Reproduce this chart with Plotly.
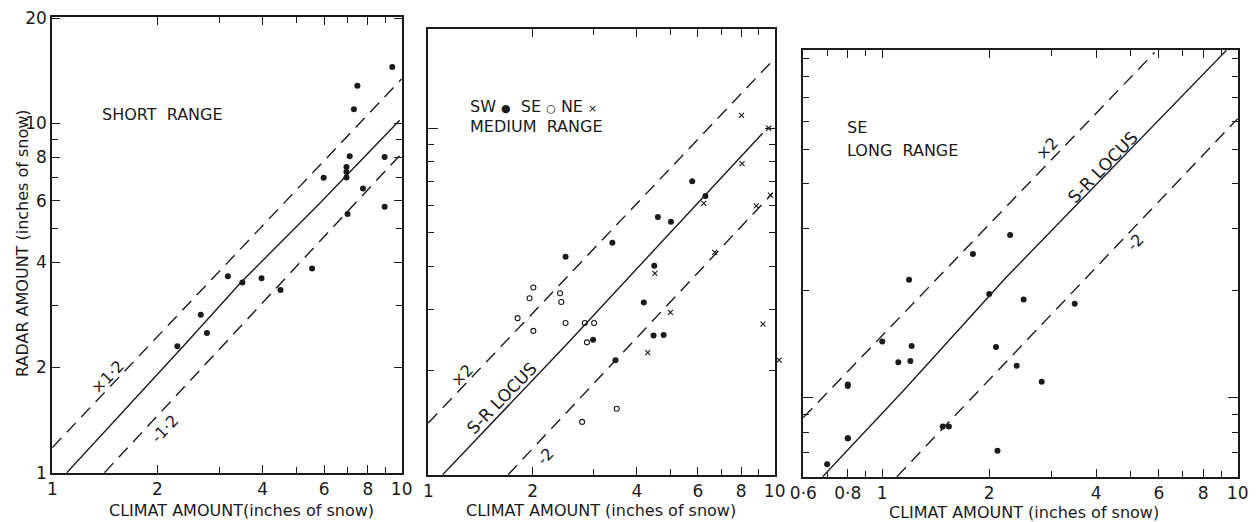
import plotly.graph_objects as go
import math

W, H = 1259, 522
OFF = 8  # page body margin: the figure is drawn 8 px in from the window's corner

# ---------------- data ----------------
# Panel 1: short range
p1_x = [9.4, 7.47, 7.3, 7.1, 6.95, 6.95, 6.95, 5.98, 7.75, 8.94, 8.94, 7.0, 5.54, 4.5, 3.97, 3.5, 3.18, 2.66, 2.77, 2.28]
p1_y = [14.5, 12.8, 10.96, 8.05, 7.5, 7.25, 7.0, 6.98, 6.51, 8.01, 5.77, 5.5, 3.84, 3.33, 3.6, 3.5, 3.65, 2.83, 2.51, 2.3]
p1_locus_x = [1.1, 2.37, 3.48, 5.83, 9.87]
p1_locus_y = [1.0, 2.30, 3.52, 5.9, 10.2]
p1_upper_x = [1.0, 10.0]
p1_upper_y = [1.18, 13.4]
p1_lower_x = [1.41, 10.0]
p1_lower_y = [1.0, 8.2]

# Panel 2: medium range
p2_sw_x = [2.49, 3.40, 4.60, 5.02, 5.78, 6.31, 4.49, 4.19, 4.47, 4.78, 2.99, 3.47]
p2_sw_y = [4.26, 4.67, 5.54, 5.37, 7.03, 6.37, 4.01, 3.14, 2.52, 2.53, 2.45, 2.14]
p2_se_x = [1.81, 1.96, 2.01, 2.01, 2.40, 2.42, 2.49, 2.83, 3.01, 2.87, 3.50, 2.78]
p2_se_y = [2.83, 3.23, 3.47, 2.60, 3.34, 3.15, 2.74, 2.74, 2.74, 2.41, 1.55, 1.42]
p2_ne_x = [8.02, 9.61, 8.05, 9.72, 6.24, 8.85, 6.71, 4.51, 5.0, 9.25, 4.30, 10.3]
p2_ne_y = [10.9, 10.0, 7.91, 6.41, 6.07, 5.97, 4.38, 3.81, 2.94, 2.72, 2.25, 2.14]
p2_locus_x = [1.10, 2.51, 9.23]
p2_locus_y = [1.0, 2.38, 9.68]
p2_upper_x = [1.0, 10.0]
p2_upper_y = [1.41, 15.9]
p2_lower_x = [1.70, 9.87]
p2_lower_y = [1.0, 6.5]

# Panel 3: long range (SE)
p3_x = [2.29, 1.80, 1.19, 2.0, 2.50, 3.48, 1.0, 1.21, 2.09, 1.11, 1.2, 2.39, 2.81, 0.80, 1.48, 1.54, 0.80, 2.11, 0.70, 0.80, 0.80]
p3_y = [2.87, 2.54, 2.15, 1.96, 1.89, 1.84, 1.44, 1.40, 1.39, 1.26, 1.27, 1.23, 1.11, 1.08, 0.83, 0.83, 0.77, 0.71, 0.65, 0.77, 1.09]
p3_locus_x = [0.68, 1.15, 2.24, 9.3]
p3_locus_y = [0.6, 1.05, 2.19, 9.5]
p3_upper_x = [0.6, 5.84]
p3_upper_y = [0.88, 9.37]
p3_lower_x = [1.10, 10.0]
p3_lower_y = [0.6, 6.1]

# tick labels
p1_xticks = [1, 2, 4, 6, 8, 10]
p1_yticks = [1, 2, 4, 6, 8, 10, 20]
p2_xticks = [1, 2, 4, 6, 8, 10]
p3_xticks = [0.6, 0.8, 1, 2, 4, 6, 8, 10]
p3_xtext = ["0·6", "0·8", "1", "2", "4", "6", "8", "10"]

FONT = "DejaVu Sans"
INK = "#1a1a1a"

# pixel boxes of each panel in the window (left, right, top, bottom)
boxes = {
    1: (52, 402, 17, 473),
    2: (428, 775, 29, 475),
    3: (803, 1238, 50, 477),
}
ranges = {
    1: ((1, 10), (1, 20.1)),
    2: ((1, 10), (1, 19.3)),
    3: ((0.6, 10), (0.6, 9.5)),
}

def fx(px):
    return (px - OFF) / W

def fy(py):
    return 1 - (py - OFF) / H

fig = go.Figure()

def dom(b):
    l, r, t, bt = b
    return [fx(l), fx(r)], [fy(bt), fy(t)]

def add_line(n, xs, ys, dash):
    fig.add_trace(go.Scatter(x=xs, y=ys, mode="lines", xaxis=f"x{n}", yaxis=f"y{n}",
                             line=dict(color=INK, width=1.4, dash=dash), showlegend=False,
                             hoverinfo="skip"))

def add_pts(xa, ya, xs, ys, symbol, size, lw=0):
    fig.add_trace(go.Scatter(x=xs, y=ys, mode="markers", xaxis=xa, yaxis=ya,
                             marker=dict(symbol=symbol, size=size, color=INK,
                                         line=dict(color=INK, width=lw)),
                             cliponaxis=False, showlegend=False))

DASH = "13px,8px"
add_line(1, p1_locus_x, p1_locus_y, "solid")
add_line(1, p1_upper_x, p1_upper_y, DASH)
add_line(1, p1_lower_x, p1_lower_y, DASH)
add_pts("x1", "y1", p1_x, p1_y, "circle", 6)

add_line(2, p2_locus_x, p2_locus_y, "solid")
add_line(2, p2_upper_x, p2_upper_y, DASH)
add_line(2, p2_lower_x, p2_lower_y, DASH)
add_pts("x2", "y2", p2_sw_x, p2_sw_y, "circle", 6)
add_pts("x2", "y2", p2_se_x, p2_se_y, "circle-open", 5, 1.1)
# NE crosses on a widened copy of panel 2's x scale (one cross lies just right of the frame)
add_pts("x7", "y2", p2_ne_x, p2_ne_y, "x-thin", 5, 1.1)

add_line(3, p3_locus_x, p3_locus_y, "solid")
add_line(3, p3_upper_x, p3_upper_y, DASH)
add_line(3, p3_lower_x, p3_lower_y, DASH)
add_pts("x3", "y3", p3_x, p3_y, "circle", 6)

# invisible carrier traces so the mirrored frame axes (top/right) get drawn
for n in (1, 2, 3):
    lx = [p1_locus_x, p2_locus_x, p3_locus_x][n - 1]
    ly = [p1_locus_y, p2_locus_y, p3_locus_y][n - 1]
    fig.add_trace(go.Scatter(x=lx, y=ly, mode="lines", xaxis=f"x{n + 3}", yaxis=f"y{n + 3}",
                             line=dict(color="rgba(0,0,0,0)", width=0), opacity=0,
                             showlegend=False, hoverinfo="skip"))

def axis_common():
    return dict(type="log", showgrid=False, zeroline=False, showline=True,
                linecolor=INK, linewidth=1.5, mirror=False, ticks="inside",
                ticklen=8, tickwidth=1.2, tickcolor=INK, automargin=False,
                tickfont=dict(family=FONT, size=17, color=INK))

def minor(vals):
    return dict(tickmode="array", tickvals=vals, ticks="inside", ticklen=6,
                tickwidth=1.2, tickcolor=INK, showgrid=False)

xminor = {1: [3, 5, 7, 9], 2: [3, 5, 7, 9], 3: [0.7, 0.9, 3, 5, 7, 9]}
xmajor = {1: p1_xticks, 2: p2_xticks, 3: p3_xticks}
xtext = {1: [str(v) for v in p1_xticks], 2: [str(v) for v in p2_xticks], 3: p3_xtext}
yminor = {1: [3, 5, 7, 9], 2: [2, 3, 4, 5, 6, 7, 8, 9], 3: [0.7, 0.8, 0.9, 2, 3, 4, 5, 6, 7, 8, 9]}
ymajor = {1: p1_yticks, 2: [1, 10], 3: [1]}

layout = {}
for n in (1, 2, 3):
    xd, yd = dom(boxes[n])
    (x0, x1), (y0, y1) = ranges[n]
    xr = [math.log10(x0) - 0.001, math.log10(x1) + 0.001]
    yr = [math.log10(y0) - 0.001, math.log10(y1) + 0.001]
    xa = axis_common()
    ya = axis_common()
    xa.update(domain=xd, range=xr, anchor=f"y{n}", tickmode="array",
              tickvals=xmajor[n], ticktext=xtext[n], minor=minor(xminor[n]))
    ya.update(domain=yd, range=yr, anchor=f"x{n}", tickmode="array",
              tickvals=ymajor[n], minor=minor(yminor[n]))
    if n == 1:
        ya.update(ticktext=[str(v) for v in p1_yticks])
    else:
        ya.update(showticklabels=False, ticklen=10)
    layout[f"xaxis{n}"] = xa
    layout[f"yaxis{n}"] = ya

    # mirrored frame sides (top and right) with inward ticks
    xt = axis_common()
    xt.update(range=xr, overlaying=f"x{n}", side="top", anchor=f"y{n}", tickmode="array",
              tickvals=xmajor[n], showticklabels=False, minor=minor(xminor[n]))
    yt = axis_common()
    yt.update(range=yr, overlaying=f"y{n}", side="right", anchor=f"x{n}", tickmode="array",
              tickvals=ymajor[n], showticklabels=False, minor=minor(yminor[n]),
              ticklen=8 if n == 1 else 10)
    layout[f"xaxis{n + 3}"] = xt
    layout[f"yaxis{n + 3}"] = yt

# widened hidden x scale for panel 2 (same px per decade, extends 20 px past the frame)
l2, r2, _, _ = boxes[2]
dec2 = (r2 - l2)  # px per decade in panel 2
ext = 20
layout["xaxis7"] = dict(type="log", visible=False, domain=[fx(l2), fx(r2 + ext)],
                        range=[-0.001, 1.001 + ext / dec2], anchor="y2", automargin=False)

fig.update_layout(**layout)

anns = []
def txt(px, py, s, size=16, angle=0, xanchor="center", yanchor="middle"):
    anns.append(dict(x=fx(px), y=fy(py), xref="paper", yref="paper", text=s,
                     showarrow=False, textangle=angle, xanchor=xanchor, yanchor=yanchor,
                     font=dict(family=FONT, size=size, color=INK)))

# axis titles
txt(22, 243, "RADAR AMOUNT (inches of snow)", 16, -90)
txt(241, 510, "CLIMAT AMOUNT(inches of snow)", 16)
txt(601, 510, "CLIMAT AMOUNT (inches of snow)", 16)
txt(1024, 512, "CLIMAT AMOUNT (inches of snow)", 16)

# panel captions
txt(100, 115, "SHORT  RANGE", 16, xanchor="left")
txt(468, 106, "SW <span style='font-size:11px'>●</span>  SE <span style='font-size:11px'>○</span> NE <span style='font-size:11px'>×</span>", 16, xanchor="left")
txt(468, 126, "MEDIUM  RANGE", 16, xanchor="left")
txt(845, 128, "SE", 16, xanchor="left")
txt(845, 150, "LONG  RANGE", 16, xanchor="left")

# line labels
txt(107, 377, "×1·2", 16, -46)
txt(164, 429, "-1·2", 16, -46)
txt(462, 375, "×2", 16, -46)
txt(502, 398, "S-R LOCUS", 17, -46)
txt(545, 456, "-2", 16, -46)
txt(1047, 148, "×2", 16, -46)
txt(1103, 167, "S-R LOCUS", 17, -46)
txt(1135, 242, "-2", 16, -46)

fig.update_layout(width=W, height=H, margin=dict(l=0, r=0, t=0, b=0, autoexpand=False),
                  paper_bgcolor="white", plot_bgcolor="rgba(0,0,0,0)", showlegend=False,
                  annotations=anns)

fig.write_html("out.html")
